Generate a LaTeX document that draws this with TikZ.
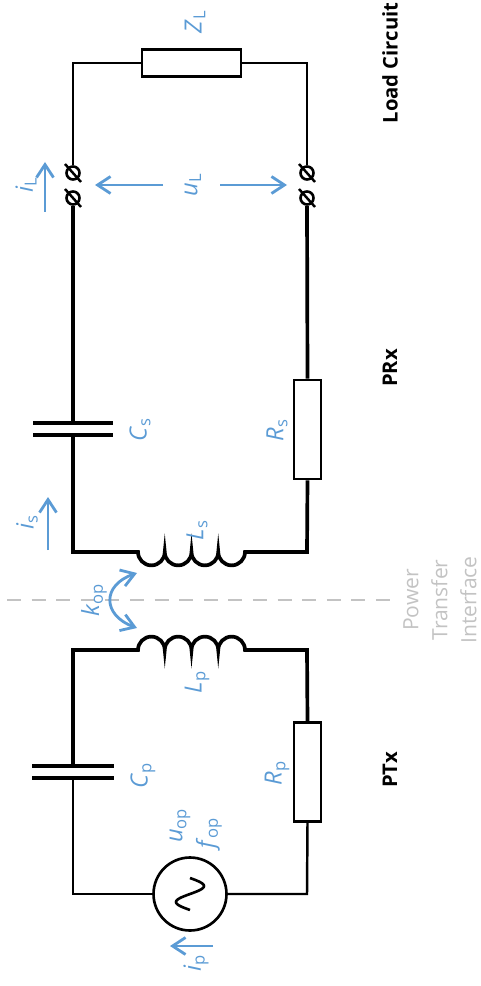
\documentclass[tikz,border=0pt]{standalone}
\usepackage{fontspec}
\setmainfont{Open Sans}
\usetikzlibrary{arrows.meta}
\definecolor{lblblue}{RGB}{91,155,213}
\definecolor{ifgray}{RGB}{195,195,195}
\newcommand{\qsym}[2]{\textit{#1}\textsubscript{#2}}

\tikzset{
  wire/.style={line width=2.1pt},
  thinwire/.style={line width=1.4pt},
  plate/.style={line width=2.6pt},
  resist/.style={draw,line width=1.6pt,fill=white,rectangle,inner sep=0pt},
  terminal/.style={circle,draw,line width=1.5pt,inner sep=0pt,minimum size=0.26cm},
  curr/.style={draw=lblblue,line width=1.6pt,-{Straight Barb[length=2.6mm,width=3.4mm]}},
  lbl/.style={text=lblblue,rotate=90,font=\fontsize{13.5}{15}\selectfont},
  blk/.style={rotate=90,font=\fontsize{11.5}{14}\selectfont\bfseries},
}

\begin{document}
\begin{tikzpicture}[x=0.02cm,y=-0.02cm]
\useasboundingbox (0,0) rectangle (480,986);

% load circuit
\coordinate (lt) at (73,63);
\coordinate (rt) at (307,63);
\node [resist,minimum width=1.98cm,minimum height=0.54cm] (zl) at (191.5,63) {};
\node [terminal] (tl1) at (73,173) {};
\node [terminal] (tl2) at (73,198) {};
\node [terminal] (tr1) at (307,173) {};
\node [terminal] (tr2) at (307,198) {};
\foreach \t in {tl1,tl2,tr1,tr2}
  \draw [thinwire] (\t) ++(-8,-9) -- ++(16,18);
\draw [thinwire] (tl1.north) -- (lt) -- (zl.west);
\draw [thinwire] (zl.east) -- (rt) -- (tr1.north);

% secondary side (PRx)
\coordinate (cs1) at (73,423);
\coordinate (cs2) at (73,435);
\coordinate (sbl) at (73,552);
\coordinate (sbr) at (307,552);
\coordinate (ls1) at (138,552);
\node [resist,minimum width=0.54cm,minimum height=1.98cm] (rs) at (307.5,429.5) {};
\draw [wire] (tl2.south) -- (cs1);
\draw [plate] (cs1) +(-40,0) -- +(40,0);
\draw [plate] (cs2) +(-40,0) -- +(40,0);
\draw [wire] (cs2) -- (sbl) -- (ls1)
  \foreach \i in {1,...,4} {arc [start angle=180,end angle=0,radius=13.375]}
  -- (sbr) -- (rs.south);
\draw [wire] (rs.north) -- (tr2.south);

% primary side (PTx)
\coordinate (ptl) at (73,650);
\coordinate (ptr) at (307,650);
\coordinate (lp1) at (138,650);
\coordinate (pc1) at (73,766);
\coordinate (pc2) at (73,778);
\coordinate (pbl) at (73,894);
\coordinate (pbr) at (307,894);
\node [resist,minimum width=0.54cm,minimum height=1.98cm] (rp) at (307.5,772) {};
\node [circle,draw,line width=1.5pt,minimum size=1.46cm,inner sep=0pt] (src) at (190,894) {};
\draw [line width=1.5pt] plot [smooth,domain=0:32,samples=33] ({190+14*sin(11.25*\x)},{878+\x});
\draw [wire] (pc1) -- (ptl) -- (lp1)
  \foreach \i in {1,...,4} {arc [start angle=180,end angle=360,radius=13.375]}
  -- (ptr) -- (rp.north);
\draw [plate] (pc1) +(-41,0) -- +(41,0);
\draw [plate] (pc2) +(-41,0) -- +(41,0);
\draw [thinwire] (rp.south) -- (pbr) -- (src.east);
\draw [thinwire] (src.west) -- (pbl) -- (pc2);

% interface
\coordinate (ifl) at (7,600);
\coordinate (ifr) at (390,600);
\draw [ifgray,line width=1.2pt,dash pattern=on 8pt off 6pt] (ifl) -- (ifr);
\node [rotate=90,text=ifgray,align=center,font=\fontsize{12}{16.5}\selectfont] (pti) at (440,600) {Power\\Transfer\\Interface};

% currents, voltages
\coordinate (ila) at (45,212);  \coordinate (ilb) at (45,162);
\coordinate (ula) at (163,185); \coordinate (ulb) at (95,185);
\coordinate (urA) at (220,185); \coordinate (urB) at (287,185);
\coordinate (isa) at (48,550);  \coordinate (isb) at (48,497);
\coordinate (ipa) at (213,946); \coordinate (ipb) at (170,946);
\coordinate (ka) at (137,573);  \coordinate (kb) at (137,628);
\draw [curr] (ila) -- (ilb);
\draw [curr] (ula) -- (ulb);
\draw [curr] (urA) -- (urB);
\draw [curr] (isa) -- (isb);
\draw [curr] (ipa) -- (ipb);
\draw [curr,{Straight Barb[length=2.6mm,width=3.4mm]}-{Straight Barb[length=2.6mm,width=3.4mm]}]
  (ka) .. controls (102,585) and (102,615) .. (kb);

% labels
\node [lbl] (zllbl) at (195,22) {\qsym{Z}{L}};
\node [lbl] (ullbl) at (193,185) {\qsym{u}{L}};
\node [lbl] (illbl) at (26,185) {\qsym{i}{L}};
\node [lbl] (cslbl) at (140,430) {\qsym{C}{s}};
\node [lbl] (rslbl) at (277,430) {\qsym{R}{s}};
\node [lbl] (islbl) at (27,522) {\qsym{i}{s}};
\node [lbl] (lslbl) at (197,530) {\qsym{L}{s}};
\node [lbl] (klbl) at (94,600) {\qsym{k}{op}};
\node [lbl] (lplbl) at (197,682) {\qsym{L}{p}};
\node [lbl] (cplbl) at (143,775) {\qsym{C}{p}};
\node [lbl] (rplbl) at (277,773) {\qsym{R}{p}};
\node [lbl,anchor=west] (uoplbl) at (180,849) {\qsym{u}{op}};
\node [lbl,anchor=west] (foplbl) at (209,855) {\qsym{f}{op}};
\node [lbl] (iplbl) at (196,963) {\qsym{i}{p}};

\node [blk] (load) at (390,63) {Load Circuit};
\node [blk] (prx) at (390,368) {PRx};
\node [blk] (ptx) at (390,770) {PTx};
\end{tikzpicture}
\end{document}
